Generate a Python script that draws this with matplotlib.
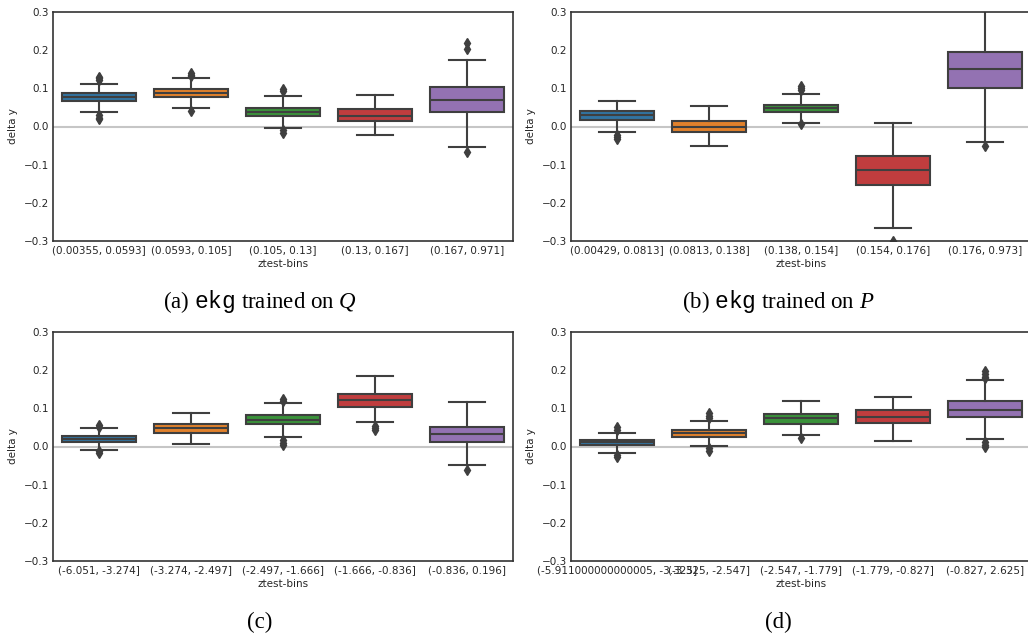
import matplotlib
matplotlib.use("Agg")
import matplotlib.pyplot as plt

plt.rcParams['font.family'] = ['DejaVu Sans']
plt.rcParams['mathtext.fontset'] = 'custom'
plt.rcParams['mathtext.rm'] = 'Liberation Serif'
plt.rcParams['mathtext.it'] = 'Liberation Serif:italic'
plt.rcParams['mathtext.tt'] = 'Liberation Mono'

COLORS = ['#3274a1', '#e1812c', '#3a923a', '#c03d3e', '#9372b2']
GRAY = '#3f3f3f'

# ---------------- data ----------------
labels_a = ['(0.00355, 0.0593]', '(0.0593, 0.105]', '(0.105, 0.13]', '(0.13, 0.167]', '(0.167, 0.971]']
med_a = [0.0766, 0.087, 0.037, 0.028, 0.0696]
q1_a = [0.066, 0.0775, 0.0267, 0.0145, 0.039]
q3_a = [0.087, 0.099, 0.0486, 0.045, 0.104]
lo_a = [0.039, 0.0486, -0.004, -0.022, -0.054]
hi_a = [0.1125, 0.128, 0.081, 0.083, 0.175]
fl_a = [[0.122, 0.126, 0.130, 0.030, 0.023, 0.020],
        [0.140, 0.135, 0.132, 0.041],
        [0.097, 0.092, -0.010, -0.016],
        [],
        [0.218, 0.204, -0.066]]

labels_b = ['(0.00429, 0.0813]', '(0.0813, 0.138]', '(0.138, 0.154]', '(0.154, 0.176]', '(0.176, 0.973]']
med_b = [0.029, 0.0, 0.0477, -0.115, 0.150]
q1_b = [0.017, -0.0136, 0.038, -0.153, 0.101]
q3_b = [0.041, 0.0155, 0.0573, -0.0775, 0.1956]
lo_b = [-0.0144, -0.050, 0.0092, -0.267, -0.0407]
hi_b = [0.066, 0.053, 0.0845, 0.0092, 0.32]
fl_b = [[-0.022, -0.028, -0.033],
        [],
        [0.106, 0.100, 0.095, 0.006],
        [-0.301],
        [-0.050]]

labels_c = ['(-6.051, -3.274]', '(-3.274, -2.497]', '(-2.497, -1.666]', '(-1.666, -0.836]', '(-0.836, 0.196]']
med_c = [0.0197, 0.048, 0.0705, 0.122, 0.033]
q1_c = [0.0118, 0.036, 0.058, 0.104, 0.011]
q3_c = [0.0276, 0.059, 0.082, 0.1374, 0.052]
lo_c = [-0.008, 0.0074, 0.024, 0.0635, -0.0495]
hi_c = [0.048, 0.089, 0.114, 0.186, 0.116]
fl_c = [[0.056, 0.050, -0.012, -0.018],
        [],
        [0.124, 0.118, 0.017, 0.010, 0.005],
        [0.054, 0.048, 0.042],
        [-0.062]]

labels_d = ['(-5.911000000000005, -3.325]', '(-3.325, -2.547]', '(-2.547, -1.779]', '(-1.779, -0.827]', '(-0.827, 2.625]']
med_d = [0.011, 0.0346, 0.074, 0.078, 0.096]
q1_d = [0.003, 0.025, 0.060, 0.0626, 0.0775]
q3_d = [0.018, 0.044, 0.085, 0.095, 0.118]
lo_d = [-0.018, 0.0013, 0.029, 0.0153, 0.0205]
hi_d = [0.0363, 0.068, 0.1195, 0.129, 0.173]
fl_d = [[0.050, 0.043, -0.021, -0.027],
        [0.087, 0.080, 0.074, -0.003, -0.011],
        [0.0215],
        [],
        [0.197, 0.190, 0.183, 0.179, 0.013, 0.005, -0.002]]

captions = [r"(a) $\mathtt{ekg}$ trained on $Q$",
            r"(b) $\mathtt{ekg}$ trained on $P$",
            "(c)", "(d)"]

panels = [
    (labels_a, med_a, q1_a, q3_a, lo_a, hi_a, fl_a),
    (labels_b, med_b, q1_b, q3_b, lo_b, hi_b, fl_b),
    (labels_c, med_c, q1_c, q3_c, lo_c, hi_c, fl_c),
    (labels_d, med_d, q1_d, q3_d, lo_d, hi_d, fl_d),
]

W, H = 1028, 639
fig = plt.figure(figsize=(W / 100, H / 100), dpi=100)

axes_px = [(53, 12, 460, 229), (571, 12, 460, 229),
           (53, 332, 460, 229), (571, 332, 460, 229)]
cap_px = [(260, 302), (778, 302), (260, 622), (778, 622)]

for i, (labs, med, q1, q3, lo, hi, fl) in enumerate(panels):
    x0, y0, w, h = axes_px[i]
    ax = fig.add_axes([x0 / W, 1 - (y0 + h) / H, w / W, h / H])
    ax.axhline(0, color='#c6c6c6', lw=1.5, zorder=0)
    stats = []
    for j in range(len(labs)):
        stats.append(dict(med=med[j], q1=q1[j], q3=q3[j], whislo=lo[j],
                          whishi=hi[j], fliers=fl[j], label=labs[j]))
    bp = ax.bxp(stats, positions=range(len(labs)), widths=0.8, patch_artist=True,
                showfliers=True,
                boxprops=dict(edgecolor=GRAY, linewidth=1.5),
                medianprops=dict(color=GRAY, linewidth=1.5),
                whiskerprops=dict(color=GRAY, linewidth=1.5),
                capprops=dict(color=GRAY, linewidth=1.5),
                flierprops=dict(marker='d', markerfacecolor=GRAY, markeredgecolor=GRAY,
                                markersize=5))
    for patch, c in zip(bp['boxes'], COLORS):
        patch.set_facecolor(c)
    ax.set_xlim(-0.5, len(labs) - 0.5)
    ax.set_ylim(-0.3, 0.3)
    ax.set_yticks([-0.3, -0.2, -0.1, 0.0, 0.1, 0.2, 0.3])
    ax.set_xticks(range(len(labs)))
    ax.set_xticklabels(labs)
    ax.tick_params(length=0, labelsize=7.5, labelcolor='#262626', pad=3)
    ax.set_xlabel('ztest-bins', fontsize=7.5, color='#262626', labelpad=3)
    ax.set_ylabel('delta y', fontsize=7.5, color='#262626', labelpad=4)
    for s in ax.spines.values():
        s.set_color('#333333')
        s.set_linewidth(1.2)
    cx, cy = cap_px[i]
    fig.text(cx / W, 1 - cy / H, captions[i], ha='center', va='center',
             fontsize=16.5, family='Liberation Serif')

fig.savefig('out.png', dpi=100)
